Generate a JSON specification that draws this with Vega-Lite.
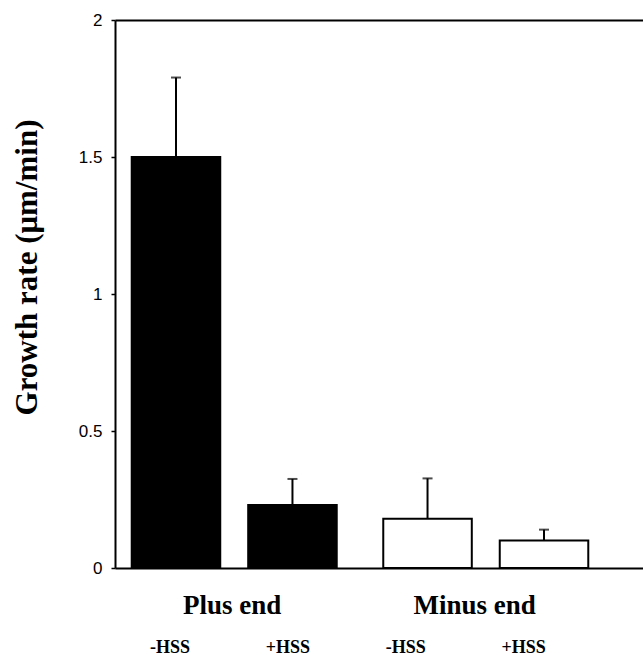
{
  "$schema": "https://vega.github.io/schema/vega-lite/v6.json",
  "width": 528,
  "height": 548,
  "autosize": {"type": "none"},
  "padding": {"left": 115, "top": 20, "right": 0, "bottom": 87},
  "background": "white",
  "config": {"view": {"stroke": null}, "axis": {"grid": false}},
  "datasets": {
    "bars": [
      {"condition": "Plus end -HSS", "end": "Plus end", "hss": "-HSS", "rate": 1.5, "upper": 1.79},
      {"condition": "Plus end +HSS", "end": "Plus end", "hss": "+HSS", "rate": 0.23, "upper": 0.325},
      {"condition": "Minus end -HSS", "end": "Minus end", "hss": "-HSS", "rate": 0.18, "upper": 0.327},
      {"condition": "Minus end +HSS", "end": "Minus end", "hss": "+HSS", "rate": 0.1, "upper": 0.14}
    ],
    "groups": [
      {"end": "Plus end"},
      {"end": "Minus end"}
    ]
  },
  "resolve": {"scale": {"x": "independent"}, "axis": {"x": "independent"}},
  "layer": [
    {
      "data": {"name": "bars"},
      "encoding": {
        "x": {
          "field": "end", "type": "nominal", "sort": null,
          "scale": {"type": "band", "domain": ["Plus end", "Minus end"], "paddingInner": 0.185, "paddingOuter": 0.142, "align": 0.234},
          "axis": {
            "orient": "top", "title": null, "labels": false, "ticks": false, "tickSize": 0,
            "domain": true, "domainColor": "black", "domainWidth": 2
          }
        },
        "xOffset": {
          "field": "hss", "type": "nominal", "sort": null,
          "scale": {"domain": ["-HSS", "+HSS"], "paddingInner": 0.24, "paddingOuter": 0}
        },
        "y": {
          "field": "rate", "type": "quantitative",
          "scale": {"domain": [0, 2], "nice": false},
          "axis": {
            "values": [0, 0.5, 1, 1.5, 2], "format": "~g",
            "title": "Growth rate (μm/min)",
            "titleFont": "Liberation Serif", "titleFontWeight": "bold", "titleFontSize": 31,
            "titleColor": "black", "titleAngle": -90, "titleX": -79, "titleY": 247,
            "titleAlign": "center", "titleBaseline": "alphabetic",
            "labelFont": "Liberation Sans", "labelFontSize": 17, "labelColor": "black",
            "labelPadding": 9, "tickSize": 4, "tickColor": "black", "tickWidth": 1.5,
            "domainColor": "black", "domainWidth": 2, "grid": false
          }
        }
      },
      "layer": [
        {
          "mark": {"type": "bar", "stroke": "black", "strokeWidth": 2},
          "encoding": {
            "fill": {"field": "end", "type": "nominal",
              "scale": {"domain": ["Plus end", "Minus end"], "range": ["black", "white"]},
              "legend": null}
          }
        },
        {
          "mark": {"type": "rule", "strokeWidth": 2, "color": "black"},
          "encoding": {"y2": {"field": "upper"}}
        },
        {
          "mark": {"type": "tick", "thickness": 2, "size": 10, "color": "black"},
          "encoding": {"y": {"field": "upper", "type": "quantitative"}}
        }
      ]
    },
    {
      "data": {"name": "bars"},
      "mark": {"type": "text", "text": ""},
      "encoding": {
        "x": {
          "field": "condition", "type": "nominal", "sort": null,
          "scale": {"type": "band", "paddingInner": 0, "paddingOuter": 0.239, "align": 0},
          "axis": {
            "orient": "bottom", "title": null, "labelAngle": 0,
            "labelExpr": "split(datum.label, ' ')[2]",
            "ticks": false, "tickSize": 0, "labelPadding": 84,
            "labelBaseline": "alphabetic", "labelFont": "Liberation Serif",
            "labelFontWeight": "bold", "labelFontSize": 18, "labelColor": "black",
            "labelOffset": -4, "domainColor": "black", "domainWidth": 2
          }
        }
      }
    },
    {
      "data": {"name": "groups"},
      "mark": {"type": "text", "text": ""},
      "encoding": {
        "x": {
          "field": "end", "type": "nominal", "sort": null,
          "scale": {"type": "band", "domain": ["Plus end", "Minus end"], "paddingInner": 0, "paddingOuter": 0.0887, "align": 0},
          "axis": {
            "orient": "bottom", "title": null, "domain": false, "ticks": false, "tickSize": 0,
            "labelAngle": 0, "labelPadding": 45, "labelBaseline": "alphabetic",
            "labelFont": "Liberation Serif", "labelFontWeight": "bold", "labelFontSize": 27,
            "labelColor": "black", "labelOffset": -4
          }
        }
      }
    }
  ]
}
